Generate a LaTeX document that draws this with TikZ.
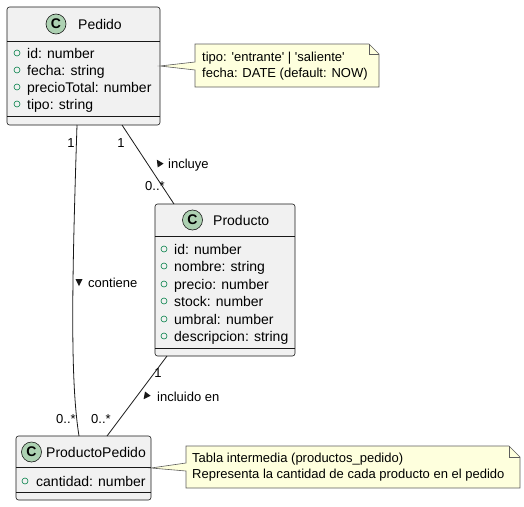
\documentclass[tikz,border=0pt]{standalone}
\usepackage{fontspec}
\setmainfont{Liberation Sans}
\usetikzlibrary{calc}
\definecolor{umlfill}{HTML}{F1F1F1}
\definecolor{umlline}{HTML}{181818}
\definecolor{spotfill}{HTML}{ADD1B2}
\definecolor{notefill}{HTML}{FEFFDD}
\definecolor{attrgreen}{HTML}{038048}
\tikzset{
  classbox/.style={draw=umlline, fill=umlfill, rounded corners=2.5pt, line width=0.6pt,
    anchor=north west, inner sep=0pt, outer sep=0pt},
  spot/.style={circle, draw=umlline, fill=spotfill, line width=0.6pt, minimum size=20pt,
    inner sep=0pt, font=\fontsize{14}{14}\selectfont\bfseries},
  cname/.style={anchor=base west, inner sep=0pt, font=\fontsize{14}{16}\selectfont},
  attr/.style={anchor=base west, inner sep=0pt, font=\fontsize{14}{16}\selectfont},
  attrdot/.style={draw=attrgreen, line width=0.6pt},
  elabel/.style={inner sep=0pt, font=\fontsize{13}{15}\selectfont},
  edge/.style={draw=umlline, line width=0.8pt},
  notebox/.style={draw=umlline!70, fill=notefill, line width=0.6pt},
  notetext/.style={anchor=west, align=left, inner sep=0pt, font=\fontsize{13}{16}\selectfont}
}
\begin{document}
\begin{tikzpicture}[x=1pt,y=-1pt]
\useasboundingbox (0,0) rectangle (524,506);

\node[classbox, minimum width=153pt, minimum height=118pt] (pedido) at (7,7) {};
\draw[umlline, line width=0.6pt] (7,41) -- (160,41);
\draw[umlline, line width=0.6pt] (7,116) -- (160,116);
\node[spot] (pedidoC) at (56,24) {C};
\node[cname] (pedidoN) at (78,29) {Pedido};
\foreach \y/\t in {53/id: number, 70/fecha: string, 87/precioTotal: number, 104/tipo: string} {
\draw[attrdot] (17,\y) circle [radius=3];
\node[attr] (pedidoA\y) at (27,\y+5) {\t};
}

\node[classbox, minimum width=140pt, minimum height=152pt] (producto) at (155,204) {};
\draw[umlline, line width=0.6pt] (155,236) -- (295,236);
\draw[umlline, line width=0.6pt] (155,348) -- (295,348);
\node[spot] (productoC) at (192.5,220) {C};
\node[cname] (productoN) at (213,225) {Producto};
\foreach \y/\t in {249/id: number, 266/nombre: string, 284/precio: number, 301/stock: number, 319/umbral: number, 336/descripcion: string} {
\draw[attrdot] (164,\y) circle [radius=3];
\node[attr] (productoA\y) at (174,\y+5) {\t};
}

\node[classbox, minimum width=135pt, minimum height=64pt] (prodped) at (16,436) {};
\draw[umlline, line width=0.6pt] (16,467) -- (151,467);
\draw[umlline, line width=0.6pt] (16,492) -- (151,492);
\node[spot] (prodpedC) at (31.5,452) {C};
\node[cname] (prodpedN) at (46,457) {ProductoPedido};
\draw[attrdot] (25,481) circle [radius=3];
\node[attr] (prodpedA) at (36,486) {cantidad: number};

\filldraw[notebox] (195,44) -- (369,44) -- (379,54) -- (379,87) -- (195,87) -- (195,70)
  -- (pedido.east) -- (195,62) -- cycle;
\draw[notebox, fill=none] (369,44) -- (369,54) -- (379,54);
\node[notetext] (tiponote) at (202,66) {tipo: \textquotesingle entrante\textquotesingle{} | \textquotesingle saliente\textquotesingle\\fecha: DATE (default: NOW)};

\filldraw[notebox] (186,446) -- (509,446) -- (520,457) -- (520,488) -- (186,488) -- (186,471)
  -- (prodped.east) -- (186,463) -- cycle;
\draw[notebox, fill=none] (509,446) -- (509,457) -- (520,457);
\node[notetext] (tablanote) at (192,467) {Tabla intermedia (productos\_pedido)\\Representa la cantidad de cada producto en el pedido};

\draw[edge] ([xshift=70pt]pedido.south west) .. controls (72,280) and (70,380) .. ([xshift=63pt]prodped.north west);
\draw[edge] ([xshift=115pt]pedido.south west) -- ([xshift=19pt]producto.north west);
\draw[edge] ([xshift=12pt]producto.south west) -- ([xshift=91pt]prodped.north west);

\node[elabel] (m1) at (71,143) {1};
\node[elabel] (m2) at (66,419) {0..*};
\node[elabel] (m3) at (121,143) {1};
\node[elabel] (m4) at (155,186) {0..*};
\node[elabel] (m5) at (158,373) {1};
\node[elabel] (m6) at (101,419) {0..*};

\fill[umlline, shift={(79,282)}, rotate=-90] (4,0) -- (-3,3.5) -- (-3,-3.5) -- cycle;
\node[elabel, anchor=base west] (lcontiene) at (88,287) {contiene};
\fill[umlline, shift={(159,163)}, rotate=123] (4,0) -- (-3,3.5) -- (-3,-3.5) -- cycle;
\node[elabel, anchor=base west] (lincluye) at (168,168) {incluye};
\fill[umlline, shift={(146,396)}, rotate=-127] (4,0) -- (-3,3.5) -- (-3,-3.5) -- cycle;
\node[elabel, anchor=base west] (lincluido) at (157,401) {incluido en};
\end{tikzpicture}
\end{document}
